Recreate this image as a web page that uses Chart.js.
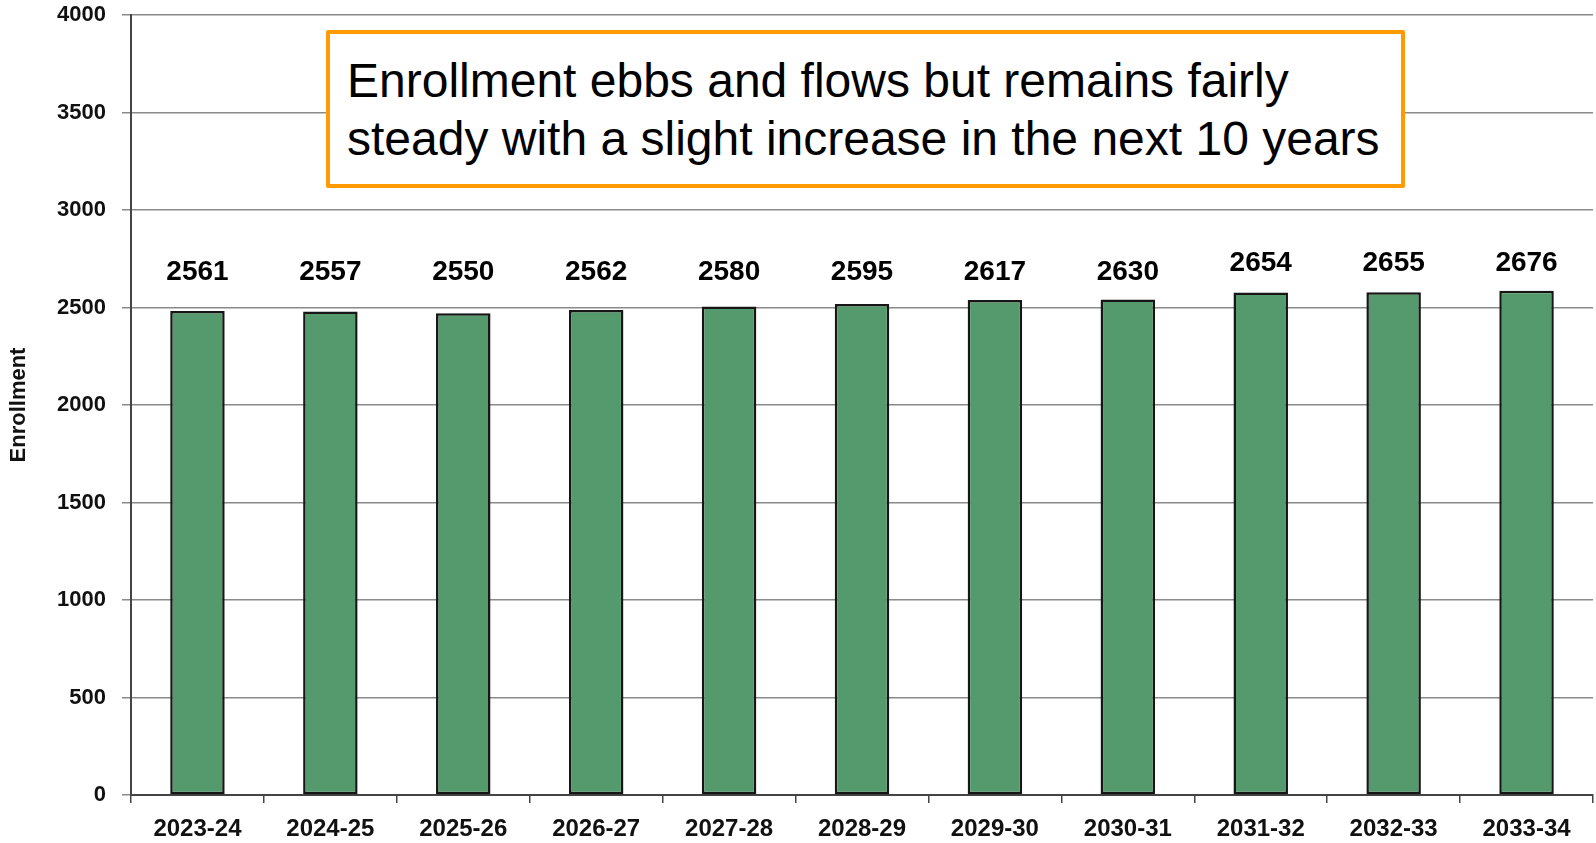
<!DOCTYPE html>
<html>
<head>
<meta charset="utf-8">
<script src="https://cdn.jsdelivr.net/npm/chart.js@4"></script>
<style>
    body { margin: 0; background: #fff; }
    #wrap { position: relative; width: 1596px; height: 843px; overflow: hidden; }
    #note {
        position: absolute; left: 326px; top: 30px; width: 1079px; height: 158px;
        box-sizing: border-box;
        border: 4px solid #ff9a00; border-radius: 2px; background: #fff;
        font-family: "Liberation Sans", Arial, sans-serif; font-size: 48px;
        line-height: 58px; padding: 18px 0 0 17px; color: #000; white-space: nowrap;
    }
</style>
</head>
<body>
<div id="wrap">
    <canvas id="barChart" width="1596" height="843"></canvas>
    <div id="note">Enrollment ebbs and flows but remains fairly<br>steady with a slight increase in the next 10 years</div>
</div>
<script>
// School years on the x axis
const years = ['2023-24', '2024-25', '2025-26', '2026-27', '2027-28', '2028-29',
               '2029-30', '2030-31', '2031-32', '2032-33', '2033-34'];
// Bar heights as drawn in the picture
const barValues = [2482, 2480, 2471, 2487, 2505, 2518, 2538, 2541, 2577, 2578, 2586];
// Numbers printed above the bars
const labelValues = [2561, 2557, 2550, 2562, 2580, 2595, 2617, 2630, 2654, 2655, 2676];
const yTicks = [0, 500, 1000, 1500, 2000, 2500, 3000, 3500, 4000];

const font = '"Liberation Sans", Arial, sans-serif';

// Draws the printed enrollment numbers above the bars, in two rows like the slide
const barLabels = {
    id: 'barLabels',
    afterDatasetsDraw(chart) {
        const c = chart.ctx;
        const bars = chart.getDatasetMeta(0).data;
        const yScale = chart.scales.y;
        c.save();
        c.font = 'bold 28px ' + font;
        c.fillStyle = '#000';
        c.textAlign = 'center';
        c.textBaseline = 'middle';
        bars.forEach((bar, i) => {
            const row = labelValues[i] >= 2650 ? 2725 : 2680;
            c.fillText(String(labelValues[i]), bar.x, yScale.getPixelForValue(row));
        });
        c.restore();
    }
};

const ctx = document.getElementById('barChart').getContext('2d');

new Chart(ctx, {
    type: 'bar',
    data: {
        labels: years,
        datasets: [{
            data: barValues,
            backgroundColor: '#549a6c',
            borderColor: '#161616',
            borderWidth: 2.5,
            borderSkipped: false,
            barPercentage: 0.41,
            categoryPercentage: 1
        }]
    },
    options: {
        responsive: false,
        animation: false,
        layout: { padding: { top: 15, right: 3, left: 0, bottom: 0 } },
        plugins: {
            legend: { display: false },
            tooltip: { enabled: false }
        },
        scales: {
            x: {
                grid: {
                    display: true,
                    drawOnChartArea: false,
                    color: '#444',
                    lineWidth: 1.5,
                    tickLength: 8
                },
                border: { color: '#444', width: 2 },
                ticks: {
                    color: '#111',
                    font: { family: font, size: 24, weight: 'bold' },
                    padding: 12,
                    maxRotation: 0
                },
                afterFit(scale) { scale.height = 48; }
            },
            y: {
                min: 0,
                max: 4000,
                afterBuildTicks(scale) { scale.ticks = yTicks.map(v => ({ value: v })); },
                grid: {
                    color: '#8a8a8a',
                    lineWidth: 1.5,
                    tickLength: 9
                },
                border: { color: '#444', width: 2 },
                ticks: {
                    color: '#111',
                    font: { family: font, size: 22, weight: 'bold' },
                    padding: 16,
                    callback: v => String(v)
                },
                title: {
                    display: true,
                    text: 'Enrollment',
                    color: '#111',
                    font: { family: font, size: 22, weight: 'bold' },
                    padding: { top: 6, bottom: 0 }
                },
                afterFit(scale) {
                    scale.width = 131;
                    // the tick padding would otherwise also push the top gridline down
                    scale.paddingTop = 0;
                    scale.paddingBottom = 0;
                }
            }
        }
    },
    plugins: [barLabels]
});
</script>
</body>
</html>
